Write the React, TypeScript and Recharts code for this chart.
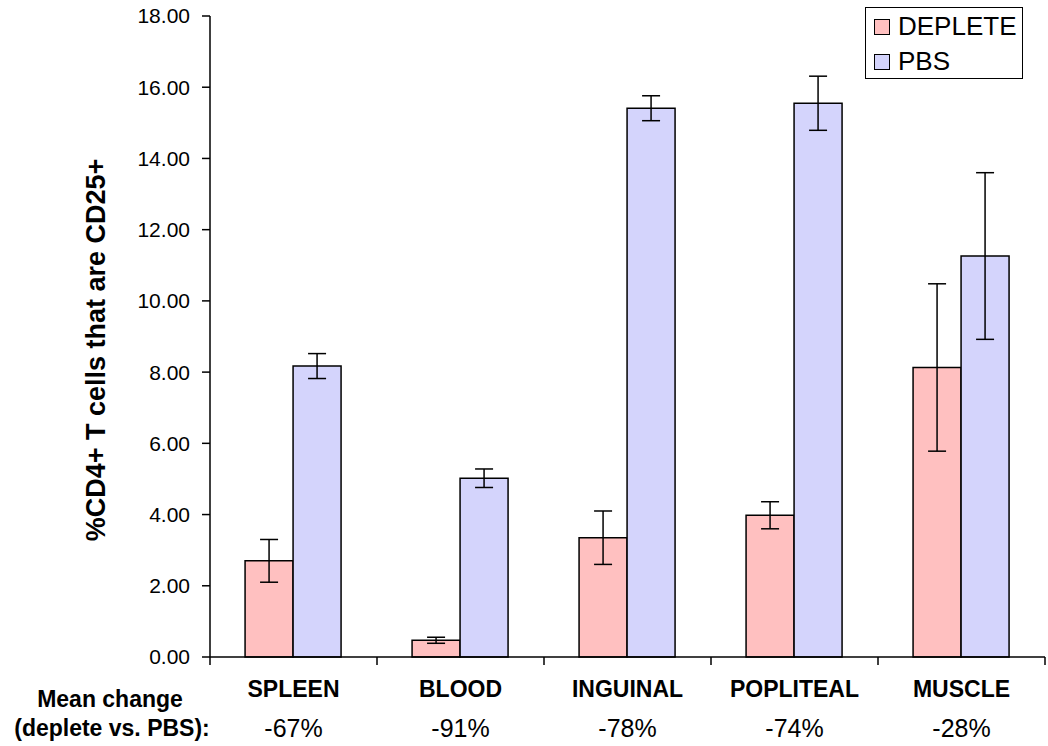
import React from 'react'
import { BarChart, Bar, XAxis, YAxis, ErrorBar } from 'recharts'

const tissues = ['SPLEEN', 'BLOOD', 'INGUINAL', 'POPLITEAL', 'MUSCLE']
const depleteMeans = [2.7, 0.47, 3.35, 3.98, 8.13]
const depleteErrors = [0.6, 0.085, 0.75, 0.38, 2.35]
const pbsMeans = [8.17, 5.02, 15.41, 15.55, 11.26]
const pbsErrors = [0.35, 0.26, 0.35, 0.76, 2.34]
const meanChange = ['-67%', '-91%', '-78%', '-74%', '-28%']
const yTicks = [0, 2, 4, 6, 8, 10, 12, 14, 16, 18]

const DEPLETE_COLOR = '#FFC0C0'
const PBS_COLOR = '#D4D4FC'
const FONT = '"Liberation Sans", Arial, sans-serif'

const W = 1048
const H = 746
const PLOT_LEFT = 210
const PLOT_RIGHT = 1045
const BAND = (PLOT_RIGHT - PLOT_LEFT) / tissues.length

const data = tissues.map((t, i) => ({
  tissue: t,
  deplete: depleteMeans[i],
  depleteErr: depleteErrors[i],
  pbs: pbsMeans[i],
  pbsErr: pbsErrors[i],
  change: meanChange[i],
}))

function CategoryTick(props: any) {
  const { x, y, payload, index } = props
  const axisY = y
  return (
    <g>
      <line x1={x - BAND / 2} x2={x - BAND / 2} y1={axisY} y2={axisY + 8} stroke="#000" strokeWidth={1.5} />
      {index === tissues.length - 1 && (
        <line x1={x + BAND / 2} x2={x + BAND / 2} y1={axisY} y2={axisY + 8} stroke="#000" strokeWidth={1.5} />
      )}
      <text x={x} y={axisY + 40} textAnchor="middle" fontSize={23} fontWeight="bold" fill="#000" fontFamily={FONT}>
        {payload.value}
      </text>
      <text x={x} y={axisY + 80} textAnchor="middle" fontSize={25} fill="#000" fontFamily={FONT}>
        {data[index]?.change}
      </text>
      {index === 0 && (
        <g fontFamily={FONT} fontWeight="bold" fontSize={23} fill="#000">
          <text x={110} y={axisY + 50} textAnchor="middle">Mean change</text>
          <text x={112} y={axisY + 79} textAnchor="middle">(deplete vs. PBS):</text>
        </g>
      )}
    </g>
  )
}

function YLabel() {
  const cx = 96
  const cy = 350
  return (
    <text
      x={cx}
      y={cy}
      transform={`rotate(-90, ${cx}, ${cy})`}
      textAnchor="middle"
      dominantBaseline="central"
      fontSize={27}
      fontWeight="bold"
      fill="#000"
      fontFamily={FONT}
    >
      %CD4+ T cells that are CD25+
    </text>
  )
}

function LegendBox() {
  const item = (color: string, label: string) => (
    <div style={{ display: 'flex', alignItems: 'center', height: 35 }}>
      <div style={{ width: 14, height: 14, background: color, border: '1px solid #000', marginRight: 8 }} />
      <span>{label}</span>
    </div>
  )
  return (
    <div
      style={{
        position: 'absolute',
        left: 865,
        top: 7,
        width: 158,
        height: 72,
        border: '1px solid #000',
        background: '#fff',
        boxSizing: 'border-box',
        padding: '1px 0 0 8px',
        fontFamily: FONT,
        fontSize: 26,
        color: '#000',
      }}
    >
      {item(DEPLETE_COLOR, 'DEPLETE')}
      {item(PBS_COLOR, 'PBS')}
    </div>
  )
}

export default function App() {
  return (
    <div style={{ position: 'relative', width: W, height: H, background: '#fff' }}>
      <style>{`body { margin: 0; }`}</style>
      <BarChart
        width={W}
        height={H}
        data={data}
        margin={{ top: 16, right: W - PLOT_RIGHT, bottom: 0, left: 0 }}
        barCategoryGap="21%"
        barGap={0}
      >
        <XAxis
          dataKey="tissue"
          height={89}
          tickLine={false}
          tickSize={0}
          tickMargin={0}
          axisLine={{ stroke: '#000', strokeWidth: 1.5 }}
          tick={<CategoryTick />}
          interval={0}
        />
        <YAxis
          width={PLOT_LEFT}
          domain={[0, 18]}
          ticks={yTicks}
          interval={0}
          tickFormatter={(v: number) => v.toFixed(2)}
          tickSize={8}
          tickMargin={12}
          tickLine={{ stroke: '#000', strokeWidth: 1.5 }}
          axisLine={{ stroke: '#000', strokeWidth: 1.5 }}
          tick={{ fontSize: 21, fill: '#000', fontFamily: FONT }}
          label={<YLabel />}
        />
        <Bar dataKey="deplete" fill={DEPLETE_COLOR} stroke="#000" strokeWidth={1.5} isAnimationActive={false}>
          <ErrorBar dataKey="depleteErr" width={9} stroke="#000" strokeWidth={1.5} direction="y" />
        </Bar>
        <Bar dataKey="pbs" fill={PBS_COLOR} stroke="#000" strokeWidth={1.5} isAnimationActive={false}>
          <ErrorBar dataKey="pbsErr" width={9} stroke="#000" strokeWidth={1.5} direction="y" />
        </Bar>
      </BarChart>
      <LegendBox />
    </div>
  )
}
